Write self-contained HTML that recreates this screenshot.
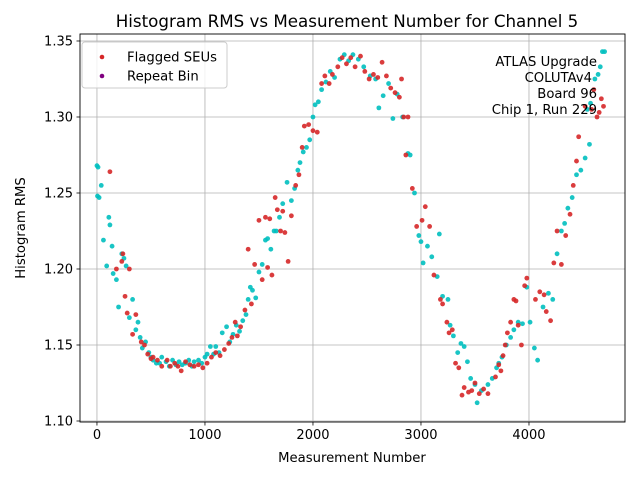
<!DOCTYPE html>
<html><head><meta charset="utf-8"><style>
body{margin:0;background:#fff}
svg{font-family:"DejaVu Sans","Liberation Sans",sans-serif}
</style></head><body>
<svg id="chart" width="640" height="480" xmlns="http://www.w3.org/2000/svg">
<rect width="640" height="480" fill="#fff"/>
<text x="347" y="27" font-size="16.7" text-anchor="middle">Histogram RMS vs Measurement Number for Channel 5</text>
<g id="grid"></g>
<g id="ticks"></g>
<g id="cyan"></g>
<g id="red"></g>
<rect x="80" y="34" width="545" height="388" fill="none" stroke="#000" stroke-width="0.9"/>
<text x="352" y="462" font-size="13.2" text-anchor="middle">Measurement Number</text>
<text transform="translate(25,228) rotate(-90)" font-size="13.2" text-anchor="middle">Histogram RMS</text>
<g>
<rect x="82" y="42" width="145" height="46" fill="#fff" fill-opacity="0.8" stroke="#ccc" rx="3"/>
<circle cx="102" cy="57" r="2.3" fill="#d62728"/>
<text x="127" y="61.5" font-size="13.2">Flagged SEUs</text>
<circle cx="102" cy="76" r="2.3" fill="#800080"/>
<text x="127" y="80.5" font-size="13.2">Repeat Bin</text>
</g>
<g font-size="13.2" text-anchor="end">
<text x="597" y="66">ATLAS Upgrade</text>
<text x="592" y="82">COLUTAv4</text>
<text x="597" y="98">Board 96</text>
<text x="597" y="114">Chip 1, Run 229</text>
</g>
</svg>
<script>
const xTicks=[0,1000,2000,3000,4000];
const yTicks=[1.10,1.15,1.20,1.25,1.30,1.35];
const yTickLabels=["1.10","1.15","1.20","1.25","1.30","1.35"];
const cyanX=[0,10,5,20,40,60,90,110,120,140,150,180,200,230,250,270,300,330,360,380,400,420,450,480,500,520,550,580,600,640,670,700,730,760,790,820,850,880,900,940,970,1000,1020,1050,1080,1100,1130,1160,1200,1230,1260,1290,1320,1350,1380,1400,1420,1440,1470,1500,1530,1560,1580,1610,1640,1660,1690,1720,1760,1800,1830,1860,1880,1910,1940,1970,2000,2020,2050,2080,2120,2160,2200,2250,2290,2330,2370,2420,2470,2530,2580,2610,2650,2700,2740,2780,2830,2880,2900,2940,2980,3000,3020,3060,3100,3150,3170,3200,3250,3270,3300,3340,3370,3400,3430,3460,3500,3520,3560,3620,3660,3700,3720,3750,3790,3830,3860,3900,3940,3980,4010,4050,4080,4130,4180,4220,4260,4300,4330,4360,4400,4440,4480,4540,4570,4610,4640,4660,4680,4700,4560,4520];
const cyanY=[1.268,1.267,1.248,1.247,1.255,1.219,1.202,1.234,1.229,1.215,1.197,1.193,1.175,1.210,1.207,1.202,1.168,1.180,1.160,1.165,1.155,1.148,1.152,1.145,1.142,1.140,1.138,1.138,1.142,1.139,1.136,1.140,1.137,1.139,1.137,1.138,1.140,1.136,1.139,1.140,1.138,1.142,1.144,1.149,1.144,1.149,1.145,1.158,1.162,1.152,1.157,1.163,1.159,1.166,1.170,1.180,1.188,1.186,1.181,1.198,1.203,1.219,1.220,1.213,1.225,1.225,1.234,1.243,1.257,1.245,1.253,1.265,1.270,1.277,1.280,1.285,1.300,1.308,1.310,1.318,1.323,1.330,1.326,1.338,1.341,1.337,1.341,1.338,1.333,1.327,1.325,1.306,1.314,1.322,1.299,1.315,1.300,1.276,1.275,1.250,1.222,1.218,1.204,1.215,1.208,1.195,1.223,1.182,1.180,1.163,1.156,1.145,1.151,1.149,1.139,1.128,1.124,1.112,1.120,1.124,1.128,1.135,1.138,1.142,1.150,1.155,1.160,1.165,1.164,1.188,1.165,1.148,1.140,1.175,1.184,1.180,1.210,1.225,1.230,1.240,1.247,1.262,1.265,1.305,1.309,1.325,1.328,1.333,1.343,1.343,1.282,1.273];
const redX=[120,180,230,240,300,260,280,330,360,410,440,470,500,520,560,600,650,680,720,750,780,820,860,900,940,980,1020,1060,1100,1140,1180,1220,1250,1280,1300,1330,1370,1400,1430,1460,1500,1530,1560,1580,1600,1620,1650,1670,1700,1720,1740,1770,1800,1840,1870,1900,1920,1960,2000,2040,2080,2110,2150,2180,2230,2270,2310,2350,2390,2440,2480,2520,2560,2600,2640,2680,2720,2760,2800,2820,2840,2880,2860,2920,2960,3010,3040,3080,3120,3180,3200,3240,3260,3290,3320,3350,3380,3400,3440,3470,3500,3540,3580,3620,3690,3720,3740,3760,3780,3800,3830,3860,3880,3900,3930,3960,3980,4060,4100,4140,4160,4200,4230,4260,4300,4340,4380,4410,4440,4460,4520,4580,4600,4630,4650,4670,4690];
const redY=[1.264,1.200,1.205,1.210,1.200,1.182,1.171,1.157,1.170,1.152,1.150,1.144,1.141,1.142,1.140,1.136,1.140,1.136,1.138,1.136,1.133,1.139,1.137,1.136,1.137,1.135,1.138,1.142,1.145,1.143,1.147,1.151,1.155,1.165,1.156,1.162,1.173,1.213,1.177,1.203,1.232,1.193,1.234,1.201,1.233,1.196,1.247,1.239,1.225,1.238,1.224,1.205,1.235,1.255,1.262,1.280,1.294,1.295,1.291,1.290,1.322,1.327,1.322,1.328,1.333,1.339,1.335,1.339,1.333,1.340,1.330,1.325,1.328,1.326,1.336,1.327,1.319,1.316,1.313,1.325,1.300,1.300,1.275,1.253,1.228,1.232,1.241,1.228,1.196,1.180,1.177,1.165,1.158,1.160,1.138,1.135,1.117,1.122,1.119,1.120,1.125,1.118,1.121,1.118,1.129,1.137,1.133,1.143,1.150,1.158,1.165,1.180,1.179,1.163,1.150,1.189,1.194,1.180,1.185,1.183,1.172,1.166,1.204,1.225,1.203,1.222,1.236,1.255,1.271,1.287,1.307,1.305,1.318,1.300,1.303,1.312,1.307];

const NS="http://www.w3.org/2000/svg";
const L=80,R=625,T=34,B=422;
const xMin=-157,xMax=4889,yMin=1.1,yMax=1.3546;
function sx(v){return L+(v-xMin)/(xMax-xMin)*(R-L);}
function sy(v){return 421-(v-yMin)/(yMax-yMin)*(421-T);}
function mk(tag,attrs,parent){const e=document.createElementNS(NS,tag);for(const k in attrs)e.setAttribute(k,attrs[k]);parent.appendChild(e);return e;}
const grid=document.getElementById('grid'),ticks=document.getElementById('ticks');
xTicks.forEach(t=>{const x=sx(t);
 const g=mk('line',{x1:x,x2:x,y1:T,y2:B,stroke:'#b0b0b0','stroke-width':0.8},grid);
 
 
 mk('line',{x1:x,x2:x,y1:B,y2:B+3.5,stroke:'#000','stroke-width':0.8},ticks);
 const tx=mk('text',{x:x,y:B+17,'font-size':13,'text-anchor':'middle'},ticks);tx.textContent=t;
 
 
});
yTicks.forEach((t,i)=>{const y=sy(t);
 const g=mk('line',{x1:L,x2:R,y1:y,y2:y,stroke:'#b0b0b0','stroke-width':0.8},grid);
 
 
 mk('line',{x1:L-3.5,x2:L,y1:y,y2:y,stroke:'#000','stroke-width':0.8},ticks);
 const tx=mk('text',{x:L-7,y:y+4.5,'font-size':13,'text-anchor':'end'},ticks);tx.textContent=yTickLabels[i];
 
 
});
const cg=document.getElementById('cyan');
cyanX.forEach((v,i)=>{const c=mk('circle',{cx:sx(v),cy:sy(cyanY[i]),r:2.4,fill:'#00bfbf','fill-opacity':0.9},cg);
 
 });
const rg=document.getElementById('red');
redX.forEach((v,i)=>{const c=mk('circle',{cx:sx(v),cy:sy(redY[i]),r:2.4,fill:'#d62728','fill-opacity':0.9},rg);
 
 });
</script>
</body></html>
